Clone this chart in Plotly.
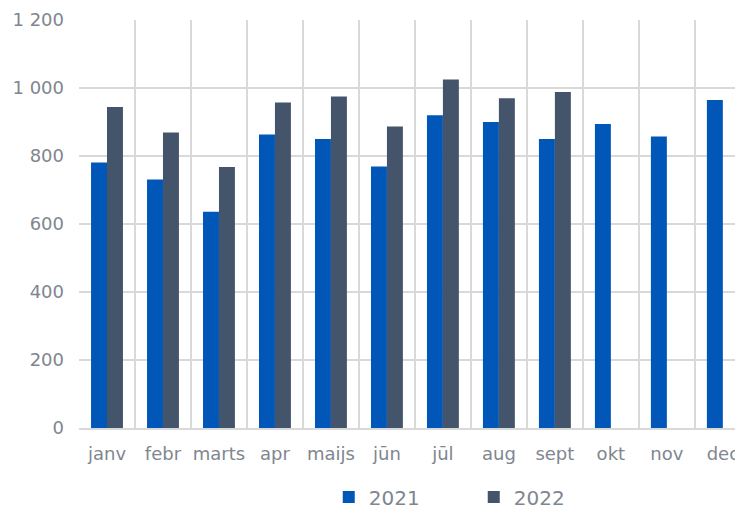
import plotly.graph_objects as go

months = ["janv", "febr", "marts", "apr", "maijs", "jūn", "jūl", "aug", "sept", "okt", "nov", "dec"]
values_2021 = [781, 731, 636, 863, 850, 769, 920, 900, 850, 894, 857, 965]
values_2022 = [944, 869, 768, 957, 975, 887, 1025, 970, 988]
y_ticks = [0, 200, 400, 600, 800, 1000, 1200]

font_family = "DejaVu Sans, Verdana, sans-serif"
text_color = "#80868f"
grid_color = "#d9d9d9"

fig = go.Figure()
fig.add_trace(go.Bar(name="2021", x=months, y=values_2021,
                     marker=dict(color="#0057b8", line=dict(width=0))))
fig.add_trace(go.Bar(name="2022", x=months[:len(values_2022)], y=values_2022,
                     marker=dict(color="#44546a", line=dict(width=0))))

# page body has an 8px default margin; figure is sized so it ends at the window edge
fig.update_layout(
    width=735, height=500,
    margin=dict(l=71, r=0, t=12, b=80, autoexpand=False),
    paper_bgcolor="white", plot_bgcolor="white",
    barmode="group", bargap=0.43, bargroupgap=0,
    separators=", ",
    font=dict(family=font_family, size=18, color=text_color),
    showlegend=True,
    legend=dict(orientation="h", x=0.5945, xanchor="center",
                yref="container", y=0.022, yanchor="middle",
                font=dict(size=20, color=text_color), entrywidth=100, entrywidthmode="pixels",
                traceorder="normal"),
    xaxis=dict(type="category", categoryorder="array", categoryarray=months,
               range=[-0.5, 11.36], tickson="boundaries", showgrid=True,
               gridcolor=grid_color, gridwidth=2, showline=True, linecolor=grid_color,
               linewidth=2, ticks="", ticklabelstandoff=8, tickangle=0, automargin=False,
               tickfont=dict(size=18, color=text_color)),
    yaxis=dict(range=[0, 1200], tickvals=y_ticks, tickformat=",d", showgrid=True,
               gridcolor=grid_color, gridwidth=2, zeroline=False, showline=False,
               ticks="", ticklabelstandoff=14, automargin=False,
               tickfont=dict(size=18, color=text_color)),
)

fig.write_html("out.html")
